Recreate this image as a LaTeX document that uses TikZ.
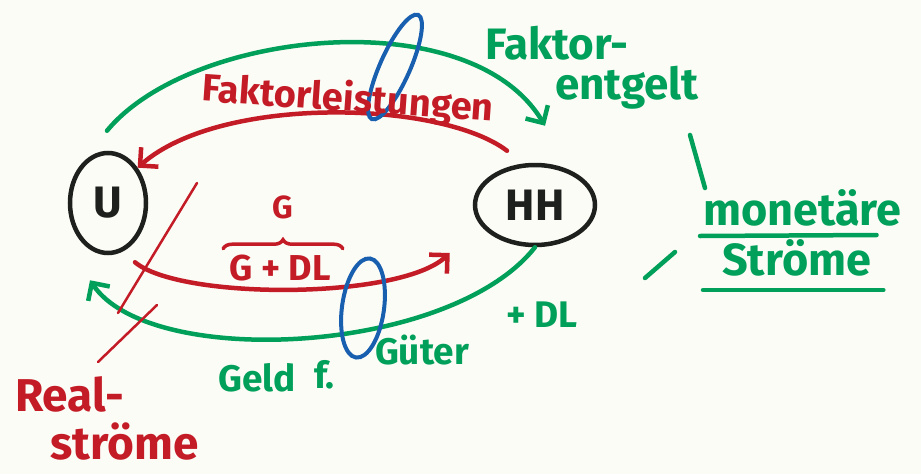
\documentclass[tikz,border=0pt]{standalone}
\usepackage{fontspec}
\setmainfont{Fira Sans}
\usepackage{tikz}
\usetikzlibrary{arrows.meta,positioning,calc,shapes.geometric,decorations.pathreplacing}
\definecolor{markred}{RGB}{196,28,38}
\definecolor{markgreen}{RGB}{0,160,90}
\definecolor{markblue}{RGB}{25,95,175}
\definecolor{markblack}{RGB}{30,32,30}
\definecolor{paper}{RGB}{252,252,247}

\begin{document}
\begin{tikzpicture}[
  x=1pt, y=-1pt,
  ring/.style={draw=markblack, ellipse, line width=4.5pt, inner sep=0pt, text=markblack, font=\fontsize{44}{48}\selectfont\bfseries},
  real/.style={draw=markred, line width=4.5pt, line cap=round},
  money/.style={draw=markgreen, line width=4.5pt, line cap=round},
  tip/.style={-{Straight Barb[length=13pt,width=26pt]}},
  cut/.style={draw=markblue, ellipse, line width=4pt, inner sep=0pt},
  redtext/.style={text=markred, font=\fontsize{38}{42}\selectfont\bfseries, inner sep=0pt, align=left},
  greentext/.style={text=markgreen, font=\fontsize{37}{40}\selectfont\bfseries, inner sep=0pt, align=left}
]
\fill[paper] (0,0) rectangle (921,474);
\useasboundingbox (0,0) rectangle (921,474);

% sectors
\node[ring, minimum width=76pt, minimum height=100pt] (U) at (108,203) {U};
\node[ring, minimum width=120pt, minimum height=80pt] (HH) at (535,205) {HH};

% free ends of the flows
\coordinate (ftl) at ($(U.north)+(-1,-20)$);
\coordinate (ftr) at ($(HH.north)+(10,-37)$);
\coordinate (rtr) at ($(HH.north)+(-28,-12)$);
\coordinate (rbl) at ($(U.south)+(27,7)$);
\coordinate (rbr) at ($(HH.west)+(-23,48)$);
\coordinate (gbl) at ($(U.south)+(-18,25)$);

% flows
\draw[money, tip] (ftl) .. controls (190,30) and (470,0) .. (ftr);
\draw[real, tip] (rtr) .. controls (440,100) and (220,95) .. (U.50);
\draw[real, tip] (rbl) .. controls (180,300) and (400,300) .. (rbr);
\draw[money, tip] (HH.south) .. controls (450,355) and (150,370) .. (gbl);

% cuts
\node[cut, minimum width=30pt, minimum height=114pt, rotate=-24] (cuttop) at (395,67) {};
\node[cut, minimum width=42pt, minimum height=100pt, rotate=-8] (cutbot) at (363,308) {};

% labels
\node[redtext, rotate=-4] (fl) at (348,100) {Faktorleistungen};
\node[redtext, font=\fontsize{32}{34}\selectfont\bfseries] (g) at (283,207) {G};
\node[redtext, font=\fontsize{36}{38}\selectfont\bfseries] (gdl) at (280,268) {G + DL};
\draw[real, line width=3.5pt, decorate, decoration={brace, amplitude=9pt}]
  ($(gdl.north west)+(-6,-6)$) -- ($(gdl.north east)+(12,-6)$);
\node[greentext, font=\fontsize{44}{40}\selectfont\bfseries, anchor=north west] (fe) at (485,26) {Faktor-\\\hspace*{70pt}entgelt};
\node[greentext, font=\fontsize{45}{48}\selectfont\bfseries, anchor=south west] (mon) at (703,226) {monetäre};
\node[greentext, font=\fontsize{45}{48}\selectfont\bfseries, anchor=south west] (str) at (722,276) {Ströme};
\draw[money] ($(mon.south west)+(-3,10)$) -- ($(mon.south east)+(-25,9)$);
\draw[money] ($(str.south west)+(-19,14)$) -- ($(str.south east)+(12,14)$);
\node[greentext] (geld) at (257,378) {Geld};
\node[greentext, right=18pt of geld.east, anchor=west, yshift=3pt] (fuer) {f.};
\node[greentext] (gueter) at (422,350) {Güter};
\node[greentext] (dl) at (542,315) {+ DL};
\node[redtext, font=\fontsize{46}{48}\selectfont\bfseries, anchor=north west] (rs) at (15,376) {Real-\\\hspace*{35pt}ströme};

% strokes
\draw[real, line width=2.5pt] (197,183) -- (118,313);
\draw[real, line width=2.5pt] (157,305) -- (98,362);
\draw[money] (690,135) -- (705,188);
\draw[money] (645,278) -- (675,252);

\end{tikzpicture}
\end{document}
